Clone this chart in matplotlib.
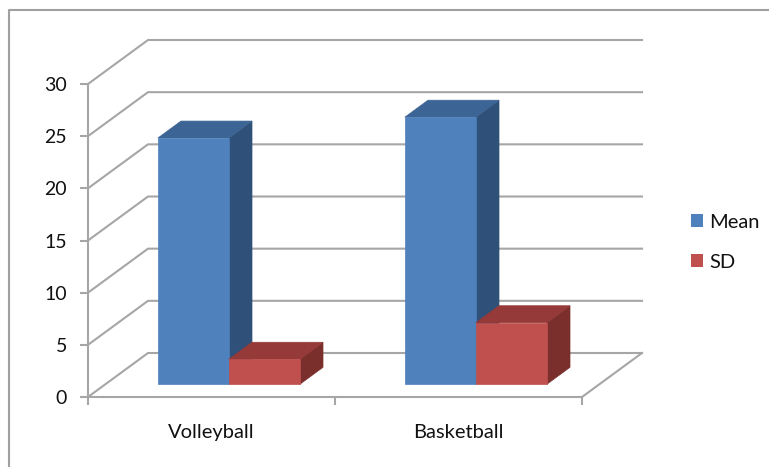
import matplotlib
matplotlib.use('Agg')
import matplotlib.pyplot as plt
from matplotlib.lines import Line2D
from matplotlib.patches import Polygon, Patch

categories = ['Volleyball', 'Basketball']
mean_values = [23.6, 25.6]
sd_values = [2.4, 5.9]
y_ticks = [0, 5, 10, 15, 20, 25, 30]

plt.rcParams['font.family'] = ['Lato', 'DejaVu Sans']

W, H = 769, 467
fig = plt.figure(figsize=(W / 100, H / 100), dpi=100)
ax = fig.add_axes([88 / W, 1 - 397 / H, (582 - 88) / W, (397 - 84) / H])
ax.set_xlim(0, 2)
ax.set_ylim(0, 30)
ax.patch.set_visible(False)

# fake 3d: how far one unit of depth moves things, in data units
depth_x = 60 / 247
depth_y = 44 / (313 / 30)
wall_color = '#a6a6a6'
text_color = '#111111'


def proj(x, y, d):
    return (x + d * depth_x, y + d * depth_y)


# walls and floor
for v in y_ticks:
    pts = [proj(0, v, 0), proj(0, v, 1), proj(2, v, 1)]
    ax.plot(*zip(*pts), color=wall_color, lw=1.5, clip_on=False, zorder=1)
ax.plot(*zip(proj(2, 0, 0), proj(2, 0, 1)), color=wall_color, lw=1.5, clip_on=False, zorder=1)


def bar3d(x0, x1, value, front, top, side):
    d0, d1 = 0.29, 0.675
    faces = [
        ([proj(x1, 0, d0), proj(x1, 0, d1), proj(x1, value, d1), proj(x1, value, d0)], side),
        ([proj(x0, value, d0), proj(x1, value, d0), proj(x1, value, d1), proj(x0, value, d1)], top),
        ([proj(x0, 0, d0), proj(x1, 0, d0), proj(x1, value, d0), proj(x0, value, d0)], front),
    ]
    for pts, col in faces:
        ax.add_patch(Polygon(pts, closed=True, facecolor=col, edgecolor=col, lw=0.5,
                             clip_on=False, zorder=3))


bar_w = 71 / 247
for i in range(len(categories)):
    start = i + 52.5 / 247
    bar3d(start, start + bar_w, mean_values[i], '#4f81bd', '#3c6494', '#2f5079')
    bar3d(start + bar_w, start + 2 * bar_w, sd_values[i], '#c0504d', '#953a38', '#7a2f2d')

# axes
for s in ['top', 'right']:
    ax.spines[s].set_visible(False)
for s in ['left', 'bottom']:
    ax.spines[s].set_color(wall_color)
    ax.spines[s].set_linewidth(1.5)
ax.set_yticks(y_ticks)
ax.set_xticks([0, 1, 2])
ax.set_xticklabels([])
ax.set_xticks([0.5, 1.5], labels=categories, minor=True)
ax.tick_params(axis='x', which='major', length=6, width=1.5, color=wall_color, direction='out')
ax.tick_params(axis='x', which='minor', length=0, pad=19.5, labelsize=14.5, labelcolor=text_color)
ax.tick_params(axis='y', length=6, width=1.5, color=wall_color, pad=9, labelsize=14, labelcolor=text_color)

# legend
handles = [Patch(facecolor='#4f81bd', label='Mean'), Patch(facecolor='#c0504d', label='SD')]
fig.legend(handles=handles, loc='upper left', bbox_to_anchor=(691 / W, 1 - 214 / H), frameon=False,
           fontsize=14.5, handlelength=0.62, handleheight=0.62, handletextpad=0.3, labelspacing=1.12,
           borderpad=0, borderaxespad=0, labelcolor=text_color)

# border of the pasted picture
fig.add_artist(Line2D([9 / W, 9 / W, 1], [0, 1 - 10 / H, 1 - 10 / H], color='#a0a0a0', lw=1.5))

fig.savefig('out.png', dpi=100)
